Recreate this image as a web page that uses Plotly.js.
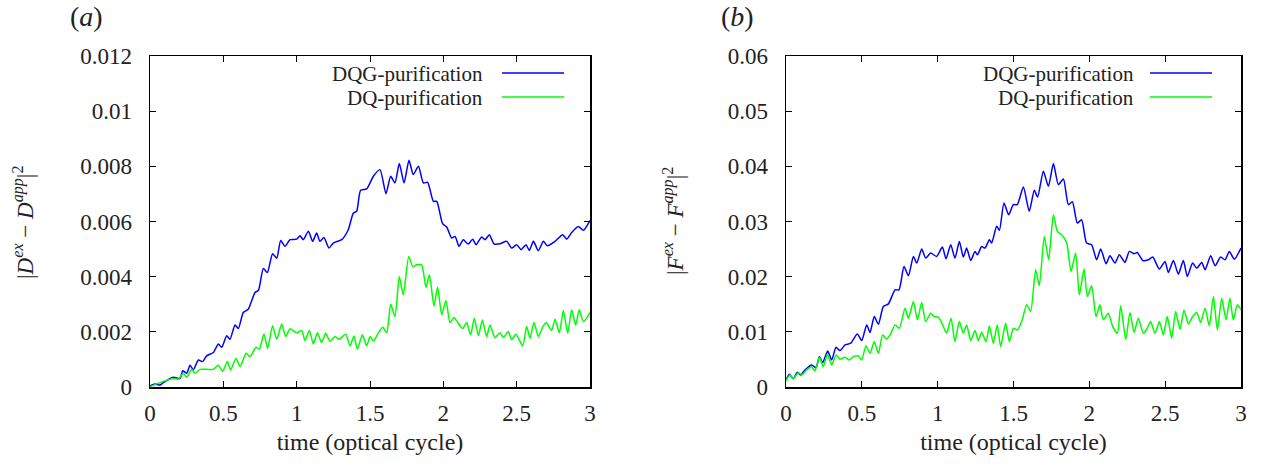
<!DOCTYPE html>
<html>
<head>
<meta charset="utf-8">
<script src="https://cdn.plot.ly/plotly-3.0.1.min.js"></script>
<style>html,body{margin:0;padding:0;background:#fff;}#chart{width:1266px;height:468px;}</style>
</head>
<body>
<div id="chart"></div>
<script>
// ---- data (time in optical cycles) ----
const xTicks = [0, 0.5, 1, 1.5, 2, 2.5, 3];
const xTickText = ['0', '0.5', '1', '1.5', '2', '2.5', '3'];
const yTicksA = [0, 0.002, 0.004, 0.006, 0.008, 0.01, 0.012];
const yTickTextA = ['0', '0.002', '0.004', '0.006', '0.008', '0.01', '0.012'];
const yTicksB = [0, 0.01, 0.02, 0.03, 0.04, 0.05, 0.06];
const yTickTextB = ['0', '0.01', '0.02', '0.03', '0.04', '0.05', '0.06'];
const seriesNames = ['DQG-purification', 'DQ-purification'];

// panel (a): |D^ex - D^app|^2, values in units of 1e-3
const tA_dqg = [0,0.034,0.068,0.091,0.159,0.205,0.223,0.25,0.273,0.295,
  0.33,0.359,0.386,0.432,0.466,0.489,0.523,0.545,0.58,0.602,
  0.636,0.67,0.716,0.739,0.773,0.8,0.836,0.864,0.891,0.92,
  0.955,1.0,1.023,1.045,1.08,1.109,1.136,1.159,1.186,1.22,
  1.25,1.307,1.352,1.386,1.409,1.436,1.477,1.523,1.568,1.609,
  1.641,1.67,1.7,1.732,1.766,1.795,1.83,1.864,1.893,1.932,
  1.955,1.995,2.023,2.057,2.08,2.107,2.136,2.17,2.2,2.223,
  2.261,2.284,2.314,2.345,2.386,2.432,2.466,2.5,2.53,2.564,
  2.586,2.614,2.648,2.682,2.709,2.761,2.814,2.841,2.875,2.92,
  2.955,3.0];
const vA_dqg = [0.04,0.11,0.07,0.16,0.35,0.31,0.59,0.50,0.79,0.62,
  0.98,0.92,1.13,1.25,1.56,1.44,1.86,1.73,2.25,2.12,
  2.70,2.82,3.43,3.50,4.30,4.15,4.83,4.67,5.31,5.10,
  5.34,5.36,5.48,5.34,5.65,5.28,5.58,5.28,5.42,5.04,
  5.22,5.34,5.70,6.30,6.37,7.13,7.18,7.64,7.88,7.01,
  7.64,7.40,8.10,7.40,8.22,7.70,8.00,7.40,7.42,6.73,
  6.73,5.92,5.80,5.40,5.46,5.10,5.34,5.18,5.36,5.16,
  5.44,5.34,5.52,5.19,5.19,5.28,5.04,5.16,4.98,5.16,
  4.95,5.28,4.94,5.28,5.12,5.28,5.52,5.36,5.60,5.82,
  5.68,6.04];
const tA_dq = [0,0.068,0.159,0.193,0.227,0.25,0.284,0.307,0.341,0.386,
  0.432,0.466,0.495,0.527,0.55,0.586,0.614,0.655,0.682,0.723,
  0.745,0.777,0.802,0.836,0.864,0.898,0.925,0.955,1.0,1.034,
  1.057,1.086,1.114,1.141,1.17,1.198,1.227,1.261,1.289,1.334,
  1.364,1.391,1.414,1.448,1.477,1.5,1.523,1.55,1.586,1.614,
  1.641,1.67,1.7,1.727,1.764,1.791,1.818,1.852,1.882,1.905,
  1.936,1.961,1.989,2.018,2.045,2.073,2.102,2.132,2.159,2.186,
  2.211,2.239,2.266,2.295,2.318,2.352,2.386,2.409,2.443,2.466,
  2.495,2.541,2.568,2.591,2.618,2.648,2.677,2.7,2.739,2.761,
  2.791,2.818,2.848,2.875,2.902,2.927,2.955,3.0];
const vA_dq = [0.01,0.16,0.31,0.28,0.50,0.35,0.64,0.50,0.64,0.64,
  0.64,0.79,0.56,0.92,0.62,1.04,0.74,1.22,1.10,1.44,
  1.37,1.92,1.40,2.22,1.73,2.28,1.83,2.11,1.97,2.05,
  1.68,2.05,1.56,1.97,1.61,1.95,1.65,1.83,1.73,1.91,
  1.49,1.85,1.37,1.89,1.49,1.83,1.67,1.89,2.17,1.97,
  3.01,2.55,4.01,3.34,4.73,4.37,4.43,4.43,3.61,4.07,
  2.94,3.62,2.62,3.14,2.34,2.52,2.31,2.12,2.34,1.89,
  2.49,1.86,2.43,1.83,2.25,1.79,1.97,1.80,2.01,1.71,
  1.91,1.49,2.19,1.77,2.34,1.83,2.17,2.34,2.05,2.46,
  1.97,2.77,1.95,2.80,2.25,2.80,2.37,2.70];

// panel (b): |F^ex - F^app|^2, values in units of 1e-3
const tB_dqg = [0,0.022,0.048,0.075,0.097,0.125,0.169,0.198,0.22,0.242,
  0.275,0.301,0.33,0.356,0.389,0.426,0.47,0.499,0.532,0.554,
  0.582,0.609,0.642,0.675,0.719,0.745,0.778,0.807,0.84,0.862,
  0.895,0.921,0.954,0.993,1.031,1.055,1.086,1.114,1.143,1.169,
  1.191,1.218,1.246,1.262,1.29,1.312,1.341,1.356,1.389,1.407,
  1.437,1.468,1.499,1.525,1.565,1.604,1.637,1.659,1.697,1.73,
  1.763,1.796,1.829,1.862,1.888,1.921,1.949,1.982,2.015,2.048,
  2.075,2.11,2.136,2.169,2.198,2.235,2.264,2.295,2.316,2.352,
  2.389,2.418,2.462,2.499,2.521,2.554,2.587,2.62,2.646,2.681,
  2.708,2.741,2.763,2.8,2.829,2.866,2.895,2.923,2.956,3.0];
const vB_dqg = [1.27,2.30,1.51,2.66,2.18,3.09,4.00,3.51,5.51,4.42,
  6.54,4.90,7.20,6.60,7.63,7.93,9.62,8.41,11.26,9.87,
  12.77,11.38,14.59,15.07,17.61,17.61,21.85,20.16,23.67,22.46,
  25.00,23.37,24.27,23.67,25.36,23.24,25.79,23.37,26.39,23.55,
  25.18,22.94,24.58,23.97,25.48,25.18,26.69,26.09,29.12,28.39,
  33.35,31.23,33.05,33.05,36.26,31.84,35.65,34.44,39.10,36.38,
  40.50,36.68,37.71,33.05,33.60,29.72,30.33,26.09,25.79,23.06,
  25.00,22.34,23.79,22.46,23.97,22.58,24.58,24.15,24.39,22.94,
  23.06,23.55,21.37,22.76,20.76,22.94,20.46,22.94,20.04,22.46,
  21.55,22.58,21.25,23.79,21.97,23.55,23.06,24.58,23.18,25.18];
const tB_dq = [0,0.026,0.048,0.081,0.103,0.136,0.169,0.191,0.22,0.246,
  0.273,0.301,0.33,0.356,0.389,0.418,0.444,0.477,0.499,0.527,
  0.554,0.582,0.609,0.637,0.664,0.69,0.719,0.747,0.785,0.807,
  0.84,0.866,0.895,0.921,0.954,0.976,1.004,1.033,1.059,1.088,
  1.114,1.143,1.169,1.191,1.218,1.246,1.268,1.29,1.319,1.341,
  1.367,1.393,1.415,1.448,1.473,1.499,1.525,1.554,1.587,1.613,
  1.646,1.67,1.703,1.732,1.763,1.789,1.818,1.851,1.879,1.91,
  1.934,1.965,1.987,2.015,2.044,2.07,2.092,2.125,2.154,2.185,
  2.207,2.24,2.268,2.295,2.323,2.356,2.378,2.404,2.433,2.462,
  2.488,2.514,2.543,2.569,2.598,2.624,2.653,2.681,2.708,2.734,
  2.763,2.791,2.818,2.844,2.873,2.901,2.927,2.949,2.976,3.0];
const vB_dq = [1.15,2.18,1.51,2.60,2.18,3.09,3.69,2.97,5.39,3.69,
  5.99,4.00,5.81,5.02,5.39,4.90,5.51,5.63,4.90,7.45,
  6.11,8.23,6.11,9.44,8.66,9.62,11.26,10.65,14.29,12.47,
  15.50,12.17,15.31,11.86,13.38,12.77,12.65,11.26,9.75,12.47,
  8.23,11.86,9.75,11.26,8.41,10.23,8.41,9.87,8.23,11.08,
  7.93,11.26,7.32,11.56,8.23,10.65,10.35,11.86,14.89,13.68,
  21.25,18.34,27.30,23.06,31.23,28.21,27.60,26.09,20.94,24.27,
  16.71,21.37,16.40,18.34,12.77,14.89,12.17,13.38,10.96,9.75,
  14.71,8.66,13.50,9.87,12.47,9.75,10.47,11.86,9.75,11.86,
  9.44,12.77,8.84,13.68,10.47,13.98,11.44,12.77,13.50,11.68,
  14.29,11.08,16.40,10.35,16.10,12.17,16.10,12.17,14.89,13.98];

const scale = v => v.map(d => d * 1e-3);

// ---- styling ----
const FONT = 'Liberation Serif';
const BLUE = '#0000ff', GREEN = '#00ff00';
const W = 1266, H = 468;
const px = x => x / W, py = y => 1 - y / H;

function line(x, y, color, xa, ya, name) {
  return {x: x, y: scale(y), xaxis: xa, yaxis: ya, type: 'scatter', mode: 'lines', name: name,
          line: {color: color, width: 1.5, shape: 'spline', smoothing: 0.6}, showlegend: false, hoverinfo: 'skip'};
}
const traces = [
  line(tA_dqg, vA_dqg, BLUE, 'x', 'y', seriesNames[0]),
  line(tA_dq, vA_dq, GREEN, 'x', 'y', seriesNames[1]),
  line(tB_dqg, vB_dqg, BLUE, 'x2', 'y2', seriesNames[0]),
  line(tB_dq, vB_dq, GREEN, 'x2', 'y2', seriesNames[1])
];

const tickFont = {family: FONT, size: 23, color: '#222'};
function xax(domain, anchor) {
  return {domain: domain, anchor: anchor, range: [0, 3], tickvals: xTicks, ticktext: xTickText,
    ticks: 'inside', ticklen: 6, tickwidth: 1, tickcolor: '#000', showline: true, linecolor: '#000', linewidth: 1.5,
    mirror: 'ticks', showgrid: false, zeroline: false, ticklabelstandoff: 5,
    tickfont: tickFont,
    title: {text: 'time (optical cycle)', font: {family: FONT, size: 24, color: '#222'}, standoff: 8}};
}
function yax(domain, anchor, range, vals, txt) {
  return {domain: domain, anchor: anchor, range: range, tickvals: vals, ticktext: txt,
    ticks: 'inside', ticklen: 6, tickwidth: 1, tickcolor: '#000', showline: true, linecolor: '#000', linewidth: 1.5,
    mirror: 'ticks', showgrid: false, zeroline: false, ticklabelstandoff: 12,
    tickfont: tickFont};
}
const yDom = [1 - 387 / H, 1 - 56 / H];

const annFont = {family: FONT, size: 23, color: '#222'};
const legFont = {family: FONT, size: 21, color: '#222'};
function ann(text, x, y, extra) {
  return Object.assign({text: text, x: px(x), y: py(y), xref: 'paper', yref: 'paper', showarrow: false,
    xanchor: 'center', yanchor: 'middle', font: annFont}, extra || {});
}
const annotations = [
  ann('(<i>a</i>)', 86, 17, {font: {family: FONT, size: 28, color: '#222'}}),
  ann('(<i>b</i>)', 737, 17, {font: {family: FONT, size: 28, color: '#222'}}),
  ann('|<i>D</i><sup><i>ex</i></sup> − <i>D</i><sup><i>app</i></sup>|<sup>2</sup>', 23, 223, {textangle: -90}),
  ann('|<i>F</i><sup><i>ex</i></sup> − <i>F</i><sup><i>app</i></sup>|<sup>2</sup>', 673, 221, {textangle: -90}),
  ann(seriesNames[0], 485, 74, {xanchor: 'right', font: legFont}),
  ann(seriesNames[1], 485, 98, {xanchor: 'right', font: legFont}),
  ann(seriesNames[0], 1136, 74, {xanchor: 'right', font: legFont}),
  ann(seriesNames[1], 1136, 98, {xanchor: 'right', font: legFont})
];
function keyLine(x0, x1, y, color) {
  return {type: 'line', xref: 'paper', yref: 'paper', x0: px(x0), x1: px(x1), y0: py(y), y1: py(y), line: {color: color, width: 1.5}};
}
const shapes = [
  keyLine(502, 564, 73, BLUE), keyLine(502, 564, 97, GREEN),
  keyLine(1150, 1212, 73, BLUE), keyLine(1150, 1212, 97, GREEN)
];

const layout = {
  width: W, height: H, margin: {l: 0, r: 0, t: 0, b: 0},
  paper_bgcolor: '#fff', plot_bgcolor: '#fff', showlegend: false,
  font: {family: FONT, color: '#222'},
  xaxis: xax([px(150), px(590)], 'y'),
  yaxis: yax(yDom, 'x', [0, 0.012], yTicksA, yTickTextA),
  xaxis2: xax([px(786), px(1241)], 'y2'),
  yaxis2: yax(yDom, 'x2', [0, 0.06], yTicksB, yTickTextB),
  annotations: annotations, shapes: shapes
};
Plotly.newPlot('chart', traces, layout, {staticPlot: true, displayModeBar: false});
</script>
</body>
</html>
